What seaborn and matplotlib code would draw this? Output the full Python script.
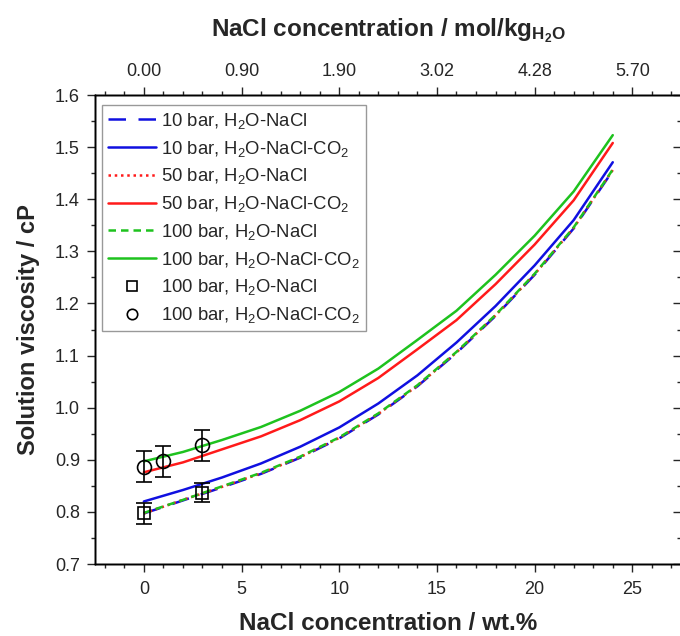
import numpy as np
import pandas as pd
import seaborn as sns
import matplotlib.pyplot as plt
from matplotlib.lines import Line2D
from matplotlib.ticker import MultipleLocator

#%% Data
wt_pct = [0, 2, 4, 6, 8, 10, 12, 14, 16, 18, 20, 22, 24]
visc_nacl_10 = [0.797, 0.822, 0.847, 0.873, 0.904, 0.941, 0.987, 1.041, 1.105, 1.176, 1.255, 1.344, 1.455]
visc_co2_10 = [0.820, 0.842, 0.866, 0.893, 0.925, 0.962, 1.008, 1.062, 1.125, 1.195, 1.273, 1.360, 1.471]
visc_nacl_50 = [0.797, 0.823, 0.848, 0.874, 0.905, 0.942, 0.988, 1.042, 1.106, 1.177, 1.256, 1.345, 1.456]
visc_co2_50 = [0.876, 0.895, 0.920, 0.945, 0.976, 1.012, 1.057, 1.112, 1.168, 1.237, 1.313, 1.398, 1.508]
visc_nacl_100 = [0.798, 0.823, 0.849, 0.875, 0.906, 0.943, 0.989, 1.043, 1.107, 1.178, 1.257, 1.346, 1.457]
visc_co2_100 = [0.897, 0.915, 0.938, 0.963, 0.994, 1.030, 1.075, 1.130, 1.186, 1.255, 1.330, 1.415, 1.523]

exp_nacl_x = [0, 3]
exp_nacl_y = [0.797, 0.837]
exp_nacl_err = [0.02, 0.018]
exp_co2_x = [0, 1, 3]
exp_co2_y = [0.887, 0.897, 0.928]
exp_co2_err = [0.03, 0.03, 0.03]

top_ticks = [0, 5, 10, 15, 20, 25]
top_labels = ["0.00", "0.90", "1.90", "3.02", "4.28", "5.70"]

#%% Style
sns.set_style('ticks')
plt.rcParams['font.family'] = ['Liberation Sans', 'DejaVu Sans']
plt.rcParams['mathtext.fontset'] = 'custom'
plt.rcParams['mathtext.rm'] = 'Liberation Sans'
plt.rcParams['mathtext.bf'] = 'Liberation Sans:bold'
plt.rcParams['mathtext.it'] = 'Liberation Sans:italic'

series = [
    (visc_nacl_10, "10 bar, H$_2$O-NaCl", "#1010e0", (0, (7, 5))),
    (visc_co2_10, "10 bar, H$_2$O-NaCl-CO$_2$", "#1010e0", "-"),
    (visc_nacl_50, "50 bar, H$_2$O-NaCl", "#ff1a1a", (0, (1, 1.5))),
    (visc_co2_50, "50 bar, H$_2$O-NaCl-CO$_2$", "#ff1a1a", "-"),
    (visc_nacl_100, "100 bar, H$_2$O-NaCl", "#1ec21e", (0, (3, 2))),
    (visc_co2_100, "100 bar, H$_2$O-NaCl-CO$_2$", "#1ec21e", "-"),
]

fig = plt.figure(figsize=(6.8, 6.36), dpi=100)
ax = fig.add_axes([0.1397, 0.1132, 0.862, 0.7374])

for vals, lab, col, ls in series:
    df = pd.DataFrame({'x': wt_pct, 'y': vals})
    sns.lineplot(data=df, x='x', y='y', ax=ax, color=col, lw=1.8, label=lab)
    ax.lines[-1].set_linestyle(ls)

ax.errorbar(exp_nacl_x, exp_nacl_y, yerr=exp_nacl_err, fmt='s', ms=8, mfc='none',
            mec='black', mew=1.2, ecolor='black', elinewidth=1.2, capsize=6, capthick=1.2)
ax.errorbar(exp_co2_x, exp_co2_y, yerr=exp_co2_err, fmt='o', ms=10, mfc='none',
            mec='black', mew=1.2, ecolor='black', elinewidth=1.2, capsize=6, capthick=1.2)

ax.set_xlim(-2.5, 27.5)
ax.set_ylim(0.7, 1.6)
ax.xaxis.set_major_locator(MultipleLocator(5))
ax.xaxis.set_minor_locator(MultipleLocator(1))
ax.yaxis.set_major_locator(MultipleLocator(0.1))
ax.yaxis.set_minor_locator(MultipleLocator(0.05))
ax.yaxis.set_major_formatter(plt.FormatStrFormatter('%.1f'))
ax.tick_params(which='major', length=5.5, width=1, labelsize=13, direction='out')
ax.tick_params(which='minor', length=3, width=1, direction='out')
ax.tick_params(axis='x', which='major', pad=6.5)
ax.tick_params(axis='y', which='major', pad=5.3)
ax.set_xlabel("NaCl concentration / wt.%", fontsize=17.5, fontweight='bold', labelpad=10.5)
ax.set_ylabel("Solution viscosity / cP", fontsize=17, fontweight='bold', labelpad=11)

# right axis: ticks only
axr = ax.twinx()
axr.set_ylim(ax.get_ylim())
axr.yaxis.set_major_locator(MultipleLocator(0.1))
axr.yaxis.set_minor_locator(MultipleLocator(0.05))
axr.tick_params(which='major', length=5.8, width=1, direction='in', labelright=False)
axr.tick_params(which='minor', length=3, width=1, direction='in')

ax2 = ax.twiny()
ax2.set_xlim(ax.get_xlim())
ax2.set_xticks(top_ticks)
ax2.set_xticklabels(top_labels)
ax2.xaxis.set_minor_locator(MultipleLocator(1))
ax2.tick_params(which='major', length=5.5, width=1, labelsize=13, pad=5.5)
ax2.tick_params(which='minor', length=3, width=1)
ax2.set_xlabel("NaCl concentration / mol/kg$_\\mathbf{H_2O}$", fontsize=17.5,
               fontweight='bold', labelpad=19)

for a in (ax, ax2, axr):
    for sp in a.spines.values():
        sp.set_linewidth(1)
        sp.set_color('black')

handles, labels = ax.get_legend_handles_labels()
handles += [Line2D([], [], ls='none', marker='s', ms=7, mfc='none', mec='black', mew=1.2),
            Line2D([], [], ls='none', marker='o', ms=7.5, mfc='none', mec='black', mew=1.2)]
labels += ["100 bar, H$_2$O-NaCl", "100 bar, H$_2$O-NaCl-CO$_2$"]
leg = ax.legend(handles, labels, loc='upper left', fontsize=13.3, frameon=True, fancybox=False,
                edgecolor='0.5', handlelength=2.6, labelspacing=0.42, borderpad=0.3,
                handletextpad=0.3, borderaxespad=0.3, bbox_to_anchor=(0.003, 0.99))
leg.get_frame().set_linewidth(1)

fig.savefig('out.png', dpi=100)
